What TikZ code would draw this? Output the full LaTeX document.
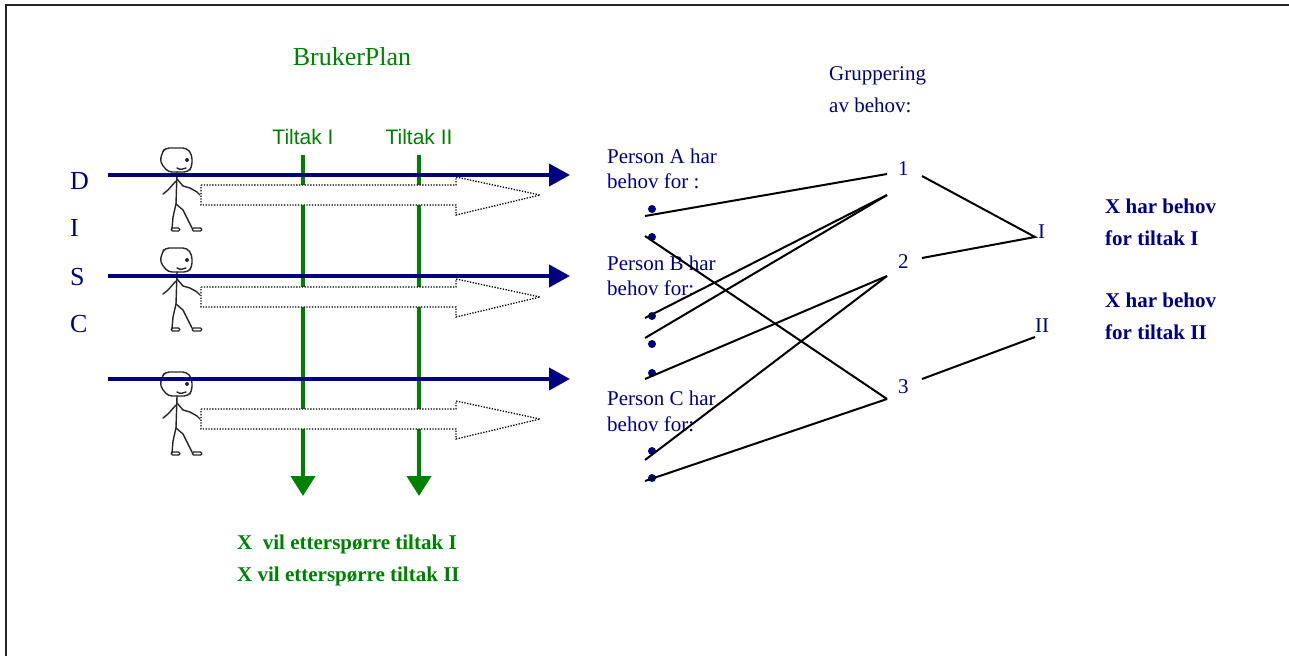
\documentclass[tikz,border=0pt]{standalone}
\usepackage{fontspec}
\setmainfont{Liberation Serif}
\newfontfamily\arialfont{Liberation Sans}
\usetikzlibrary{arrows.meta}
\definecolor{navyline}{RGB}{0,0,128}
\definecolor{planGreen}{RGB}{0,128,0}

\tikzset{
  txt/.style={inner sep=0pt, anchor=base west, text=navyline,
              font=\fontsize{21}{25}\selectfont},
  boldtxt/.style={txt, font=\fontsize{21}{25}\selectfont\bfseries},
  greentxt/.style={boldtxt, text=planGreen},
  bigtxt/.style={txt, font=\fontsize{26}{30}\selectfont},
  tiltaktxt/.style={inner sep=0pt, anchor=base, text=planGreen,
              font=\arialfont\fontsize{21}{25}\selectfont},
  timeline/.style={navyline, line width=4pt,
              -{Triangle[length=21pt,width=22pt]}},
  measureline/.style={planGreen, line width=4pt,
              -{Triangle[length=20pt,width=24pt]}},
  hollowarrow/.style={draw=black, fill=white, line width=1.3pt,
              dash pattern=on 1.3pt off 1.5pt},
  link/.style={black, line width=2pt},
  bullet/.style={circle, fill=navyline, inner sep=0pt, minimum size=8pt},
  stickman/.pic={
    \begin{scope}[black!85, line width=1.4pt, line join=round, line cap=round]
      \draw[rounded corners=4pt] (5,0) -- (27,0) -- (32,7) -- (32,19)
            -- (28,24) -- (8,24) -- (0,14) -- (2,5) -- cycle;
      \fill (27,12) circle (2);
      \draw (17,20) .. controls (20,22) and (23,21.5) .. (26,20);
      \draw (17,24) -- (16,56);
      \draw (16,33) -- (8,42) -- (3,46);
      \draw (17,31) -- (23,38) -- (30,40) -- (37,44) -- (40,47);
      \draw (16,56) -- (13,69) -- (12,81);
      \draw[rounded corners=1.5pt] (11,80) rectangle (20,83);
      \draw (16,56) -- (23,62) -- (32,80);
      \draw[rounded corners=1.5pt] (32,80) rectangle (42,83);
    \end{scope}
  }
}

\begin{document}
\begin{tikzpicture}[x=1pt, y=-1pt]
  \useasboundingbox (0,0) rectangle (1289,656);

  % page frame
  \draw[line width=2pt, black!85] (6,656) -- (6,5) -- (1289,5);

  % title and measure labels
  \node[bigtxt, text=planGreen, anchor=base] (title) at (352,65) {BrukerPlan};
  \node[tiltaktxt] (t1) at (303,144) {Tiltak I};
  \node[tiltaktxt] (t2) at (419,144) {Tiltak II};

  % D I S C
  \node[bigtxt] (lD) at (70,189) {D};
  \node[bigtxt] (lI) at (70,236) {I};
  \node[bigtxt] (lS) at (70,285) {S};
  \node[bigtxt] (lC) at (70,332) {C};

  % persons
  \pic at (160,148) {stickman};
  \pic at (160,248) {stickman};
  \pic at (160,372) {stickman};

  % measures (vertical)
  \coordinate (g1s) at (303,155); \coordinate (g1e) at (303,496);
  \coordinate (g2s) at (419,155); \coordinate (g2e) at (419,496);
  \draw[measureline] (g1s) -- (g1e);
  \draw[measureline] (g2s) -- (g2e);

  % time lines
  \coordinate (h1s) at (108,175); \coordinate (h1e) at (570,175);
  \coordinate (h2s) at (108,276); \coordinate (h2e) at (570,276);
  \coordinate (h3s) at (108,379); \coordinate (h3e) at (570,379);
  \draw[timeline] (h1s) -- (h1e);
  \draw[timeline] (h2s) -- (h2e);
  \draw[timeline] (h3s) -- (h3e);

  % dotted needs arrows
  \foreach \dy in {0,102,224}{
    \draw[hollowarrow] (201,185+\dy) -- (456,185+\dy) -- (456,177+\dy)
      -- (540,195+\dy) -- (456,215+\dy) -- (456,205+\dy) -- (201,205+\dy) -- cycle;
  }

  % persons' needs
  \node[txt] (pa1) at (607,163) {Person A har};
  \node[txt] (pa2) at (607,188) {behov for :};
  \node[txt] (pb1) at (607,270) {Person B har};
  \node[txt] (pb2) at (607,295) {behov for:};
  \node[txt] (pc1) at (607,405) {Person C har};
  \node[txt] (pc2) at (607,431) {behov for:};

  \node[bullet] (ba1) at (652,209) {};
  \node[bullet] (ba2) at (652,237) {};
  \node[bullet] (bb1) at (652,316) {};
  \node[bullet] (bb2) at (652,344) {};
  \node[bullet] (bb3) at (652,373) {};
  \node[bullet] (bc1) at (652,451) {};
  \node[bullet] (bc2) at (652,478) {};

  % grouping
  \node[txt] (grp1) at (829,80) {Gruppering};
  \node[txt] (grp2) at (829,112) {av behov:};

  \node[txt] (n1) at (898,175) {1};
  \node[txt] (n2) at (898,268) {2};
  \node[txt] (n3) at (898,393) {3};
  \node[txt] (rI) at (1038,238) {I};
  \node[txt] (rII) at (1035,332) {II};

  % line ends
  \coordinate (la1) at (645,216);
  \coordinate (la2) at (645,236);
  \coordinate (lb1) at (645,318);
  \coordinate (lb2) at (645,338);
  \coordinate (lb3) at (645,379);
  \coordinate (lc1) at (645,460);
  \coordinate (lc2) at (645,481);
  \coordinate (e1a) at (887,174);
  \coordinate (e1b) at (887,195);
  \coordinate (e2) at (887,276);
  \coordinate (e3) at (887,399);
  \coordinate (o1) at (922,176);
  \coordinate (o2) at (922,258);
  \coordinate (o3) at (922,379);
  \coordinate (gI) at (1035,237);
  \coordinate (gII) at (1035,337);

  \draw[link] (la1) -- (e1a);
  \draw[link] (la2) -- (e3);
  \draw[link] (lb1) -- (e1b);
  \draw[link] (lb2) -- (e1b);
  \draw[link] (lb3) -- (e2);
  \draw[link] (lc1) -- (e2);
  \draw[link] (lc2) -- (e3);
  \draw[link] (o1) -- (gI) -- (o2);
  \draw[link] (o3) -- (gII);

  % conclusions
  \node[boldtxt] (xI1) at (1105,213) {X har behov};
  \node[boldtxt] (xI2) at (1105,245) {for tiltak I};
  \node[boldtxt] (xII1) at (1105,307) {X har behov};
  \node[boldtxt] (xII2) at (1105,339) {for tiltak II};

  \node[greentxt] (d1) at (237,549) {X\ \ vil etterspørre tiltak I};
  \node[greentxt] (d2) at (237,581) {X vil etterspørre tiltak II};
\end{tikzpicture}
\end{document}
